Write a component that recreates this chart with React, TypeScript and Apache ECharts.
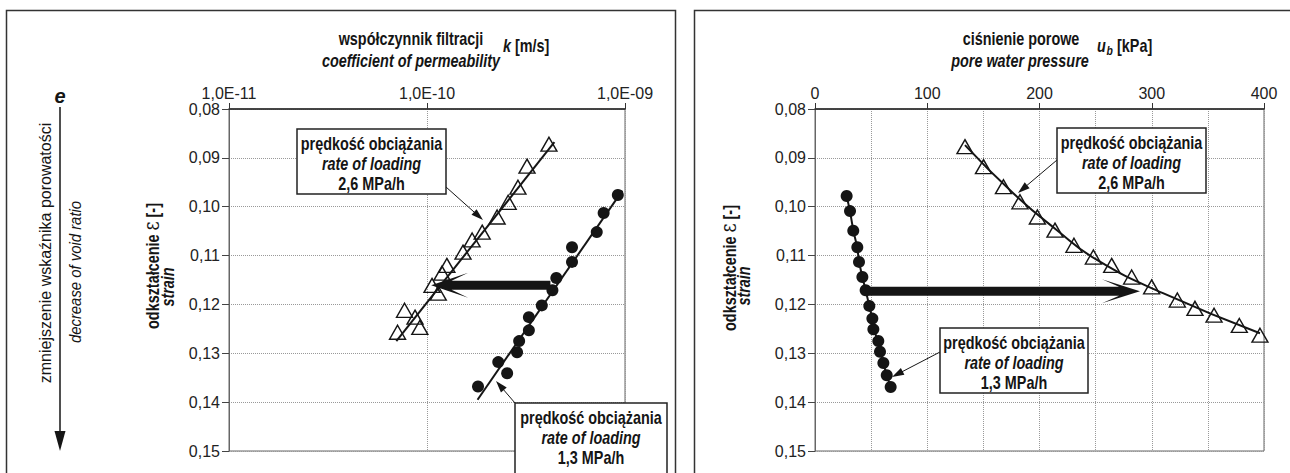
import React, { useEffect, useRef } from "react";
import * as echarts from "echarts";

// ---------- data ----------
// left chart: coefficient of permeability k [m/s] vs strain
const leftTriangles: [number, number][] = [
  [4.13e-10, 0.0872], [3.2e-10, 0.0917], [2.88e-10, 0.096], [2.57e-10, 0.0991],
  [2.26e-10, 0.1021], [1.9e-10, 0.1052], [1.69e-10, 0.1068], [1.52e-10, 0.1093],
  [1.26e-10, 0.112], [1.19e-10, 0.1136], [1.06e-10, 0.1161], [1.14e-10, 0.1177],
  [7.7e-11, 0.1212], [8.7e-11, 0.1226], [9.2e-11, 0.1247], [7.1e-11, 0.1257],
];
const leftCircles: [number, number][] = [
  [9.2e-10, 0.0976], [7.8e-10, 0.1013], [7.2e-10, 0.1052], [5.4e-10, 0.1083],
  [5.4e-10, 0.1113], [4.5e-10, 0.1146], [4.3e-10, 0.1171], [3.8e-10, 0.1202],
  [3.27e-10, 0.1226], [3.27e-10, 0.1253], [2.92e-10, 0.1275], [2.85e-10, 0.1298],
  [2.29e-10, 0.1318], [2.54e-10, 0.1341], [1.81e-10, 0.1368],
];
const leftTriangleFit: [number, number][] = [[7.0e-11, 0.1275], [4.4e-10, 0.0868]];
const leftCircleFit: [number, number][] = [[1.8e-10, 0.1395], [9.7e-10, 0.0967]];
const leftArrow: number[][] = [[4.2e-10, 0.1161, 1.05e-10, 0.1161]];
const kMinorGrid: number[] = [
  2e-11, 3e-11, 4e-11, 5e-11, 6e-11, 7e-11, 8e-11, 9e-11,
  2e-10, 3e-10, 4e-10, 5e-10, 6e-10, 7e-10, 8e-10, 9e-10,
];

// right chart: pore water pressure u_b [kPa] vs strain
const rightCircles: [number, number][] = [
  [28.2, 0.0978], [31.2, 0.1009], [34.1, 0.1049], [37.7, 0.1083], [39.2, 0.1113],
  [42.2, 0.1144], [45.1, 0.1171], [48.4, 0.1203], [51.1, 0.1229], [52.0, 0.1251],
  [56.4, 0.1275], [57.9, 0.1297], [60.9, 0.132], [63.9, 0.1345], [67.4, 0.1369],
];
const rightTriangles: [number, number][] = [
  [133.6, 0.0877], [150.1, 0.0918], [167.9, 0.0959], [182.6, 0.099], [198.1, 0.1021],
  [213.8, 0.1048], [230.7, 0.1079], [248.0, 0.1103], [264.3, 0.112], [282.1, 0.1144],
  [299.9, 0.1164], [322.8, 0.1191], [338.5, 0.1208], [355.5, 0.1222], [378.0, 0.1243],
  [396.4, 0.1263],
];
const rightTriangleFit: [number, number][] = [
  [133.6, 0.0874], [176.4, 0.0972], [215, 0.1047], [251.2, 0.1109], [310, 0.1177], [396.4, 0.1259],
];
const rightArrow: number[][] = [[45, 0.1173, 289.5, 0.1173]];

const strainTicks = { min: 0.08, max: 0.15, interval: 0.01 };

// ---------- styling ----------
const NARROW = "'Liberation Sans Narrow', 'Liberation Sans', Arial, sans-serif";
const REG = "'Liberation Sans', Arial, sans-serif";
const INK = "#151515";
const SQ = 0.8; // horizontal condensing of the bold condensed face

const fmtStrain = (v: number) => v.toFixed(2).replace(".", ",");
const fmtK = (v: number) => {
  const e = Math.round(Math.log10(v));
  const s = e < 0 ? "-" : "+";
  const a = Math.abs(e);
  return "1,0E" + s + (a < 10 ? "0" + a : String(a));
};

function yAxis(gridIndex: number) {
  return {
    type: "value",
    gridIndex,
    inverse: true,
    min: strainTicks.min,
    max: strainTicks.max,
    interval: strainTicks.interval,
    axisLine: { show: true, lineStyle: { color: "#666", width: 1 } },
    axisTick: { show: true, length: 7, lineStyle: { color: "#444" } },
    axisLabel: { formatter: fmtStrain, fontSize: 16, color: "#222", margin: 9, fontFamily: REG },
    splitLine: { show: true, lineStyle: { type: "dotted", color: "#999", width: 1 } },
  };
}

function renderArrow(headLen: number, headHalf: number, shaftHalf: number) {
  return (params: any, api: any) => {
    const p1 = api.coord([api.value(0), api.value(1)]);
    const p2 = api.coord([api.value(2), api.value(3)]);
    const dir = p2[0] > p1[0] ? 1 : -1;
    const y = p1[1];
    const backX = p2[0] - dir * headLen;
    const notchX = p2[0] - dir * headLen * 0.55;
    return {
      type: "polygon",
      shape: {
        points: [
          [p1[0], y - shaftHalf], [notchX, y - shaftHalf], [backX, y - headHalf], [p2[0], y],
          [backX, y + headHalf], [notchX, y + shaftHalf], [p1[0], y + shaftHalf],
        ],
      },
      style: { fill: INK },
    };
  };
}

function leader(x1: number, y1: number, x2: number, y2: number): any[] {
  const dx = x2 - x1, dy = y2 - y1;
  const L = Math.hypot(dx, dy);
  const ux = dx / L, uy = dy / L;
  const hl = 12, hw = 3.8;
  const bx = x2 - ux * hl, by = y2 - uy * hl;
  return [
    { type: "line", z: 100, shape: { x1, y1, x2: bx + ux * 3, y2: by + uy * 3 }, style: { stroke: INK, lineWidth: 1 } },
    {
      type: "polygon", z: 100,
      shape: { points: [[x2, y2], [bx - uy * hw, by + ux * hw], [bx + uy * hw, by - ux * hw]] },
      style: { fill: INK },
    },
  ];
}

function txt(x: number, y: number, text: string, opts: any = {}): any {
  return {
    type: "text", z: 101, x, y,
    rotation: opts.rotation || 0,
    scaleX: opts.scaleX !== undefined ? opts.scaleX : SQ,
    style: {
      text,
      fill: opts.fill || INK,
      font: opts.font || `bold 18px ${NARROW}`,
      align: opts.align || "center",
      verticalAlign: "middle",
      rich: opts.rich,
    },
  };
}

function box(x: number, y: number, w: number, h: number, rate: string): any[] {
  const cx = x + w / 2;
  return [
    { type: "rect", z: 100, shape: { x, y, width: w, height: h }, style: { fill: "#fff", stroke: "#222", lineWidth: 1.5 } },
    txt(cx, y + 14, "prędkość obciążania"),
    txt(cx, y + 34, "rate of loading", { font: `italic bold 18px ${NARROW}` }),
    txt(cx, y + 54, rate),
  ];
}

function strainTitle(cx: number, cy: number, cx2: number, cy2: number): any[] {
  return [
    txt(cx, cy, "{a|odkształcenie }{e|ε}{a| [-]}", {
      rotation: Math.PI / 2,
      rich: {
        a: { font: `bold 18px ${NARROW}`, fill: INK },
        e: { font: `22px 'DejaVu Serif', serif`, fill: INK },
      },
    }),
    txt(cx2, cy2, "strain", { rotation: Math.PI / 2, font: `italic bold 18px ${NARROW}` }),
  ];
}

export default function App() {
  const ref = useRef<HTMLDivElement>(null);

  useEffect(() => {
    document.body.style.margin = "0";
    const chart = echarts.init(ref.current!, null, { renderer: "svg" });

    const graphic: any[] = [
      // panel frames
      { type: "rect", z: 0, shape: { x: 6.5, y: 10.5, width: 669, height: 490 }, style: { fill: "none", stroke: "#333", lineWidth: 1.5 } },
      { type: "rect", z: 0, shape: { x: 694.5, y: 10.5, width: 640, height: 490 }, style: { fill: "none", stroke: "#333", lineWidth: 1.5 } },

      // left side label: void ratio
      txt(60, 96, "e", { font: `italic bold 20px ${NARROW}`, scaleX: 1 }),
      { type: "line", z: 100, shape: { x1: 60, y1: 107, x2: 60, y2: 434 }, style: { stroke: INK, lineWidth: 1.5 } },
      { type: "polygon", z: 100, shape: { points: [[54.5, 431], [65.5, 431], [60, 451]] }, style: { fill: INK } },
      txt(45, 253, "zmniejszenie wskaźnika porowatości", { rotation: Math.PI / 2, font: `16px ${REG}`, scaleX: 1 }),
      txt(75, 272, "decrease of void ratio", { rotation: Math.PI / 2, font: `italic 16px ${REG}`, scaleX: 0.93 }),

      // left axis titles
      txt(411, 38, "współczynnik filtracji"),
      txt(411, 60, "coefficient of permeability", { font: `italic bold 18px ${NARROW}` }),
      txt(503, 45, "{i|k}{n| [m/s]}", {
        align: "left",
        rich: {
          i: { font: `italic bold 18px ${NARROW}`, fill: INK },
          n: { font: `bold 18px ${NARROW}`, fill: INK },
        },
      }),
      ...strainTitle(152, 266, 167, 287),

      // right axis titles
      txt(1021, 38, "ciśnienie porowe"),
      txt(1020, 60, "pore water pressure", { font: `italic bold 18px ${NARROW}` }),
      txt(1097, 45, "u", { align: "left", font: `italic bold 18px ${NARROW}` }),
      txt(1106.5, 50, "b", { align: "left", font: `italic bold 13px ${NARROW}` }),
      txt(1117, 45, "[kPa]", { align: "left" }),
      ...strainTitle(729, 268, 743, 286),

      // callouts
      ...leader(446, 187, 483, 220),
      ...box(297, 129, 149, 65, "2,6 MPa/h"),
      ...leader(515, 403, 496, 381),
      ...box(515, 403, 152, 72, "1,3 MPa/h"),
      ...leader(1057, 160, 1018, 193),
      ...box(1057, 128, 149, 65, "2,6 MPa/h"),
      ...leader(940, 352, 892, 377),
      ...box(940, 328, 148, 65, "1,3 MPa/h"),
    ];

    chart.setOption({
      animation: false,
      backgroundColor: "#fff",
      textStyle: { fontFamily: REG },
      grid: [
        { left: 229, top: 109, width: 396, height: 342, show: true, borderColor: "#666", borderWidth: 1 },
        { left: 815, top: 109, width: 449, height: 342, show: true, borderColor: "#666", borderWidth: 1 },
      ],
      xAxis: [
        {
          type: "log",
          logBase: 10,
          gridIndex: 0,
          position: "top",
          min: 1e-11,
          max: 1e-9,
          axisLine: { show: true, lineStyle: { color: "#222", width: 1.5 } },
          axisTick: { show: true, length: 6, lineStyle: { color: "#333" } },
          axisLabel: { formatter: fmtK, fontSize: 16, color: "#222", margin: 8, fontFamily: REG },
          splitLine: { show: true, lineStyle: { type: "dotted", color: "#999", width: 1 } },
        },
        {
          type: "value",
          gridIndex: 1,
          position: "top",
          min: 0,
          max: 400,
          interval: 100,
          axisLine: { show: true, lineStyle: { color: "#222", width: 1.5 } },
          axisTick: { show: true, length: 6, lineStyle: { color: "#333" } },
          axisLabel: { fontSize: 16, color: "#222", margin: 8, fontFamily: REG },
          splitLine: { show: true, lineStyle: { type: "dotted", color: "#999", width: 1 } },
          minorTick: { show: false, splitNumber: 2 },
          minorSplitLine: { show: true, lineStyle: { type: "dotted", color: "#999", width: 1 } },
        },
      ],
      yAxis: [yAxis(0), yAxis(1)],
      series: [
        // left minor grid (log decades)
        {
          type: "line",
          xAxisIndex: 0,
          yAxisIndex: 0,
          data: [],
          z: 1,
          silent: true,
          markLine: {
            silent: true,
            symbol: ["none", "none"],
            label: { show: false },
            lineStyle: { type: "dotted", color: "#999", width: 1 },
            data: kMinorGrid.map((v) => ({ xAxis: v })),
          },
        },
        {
          type: "scatter",
          xAxisIndex: 0,
          yAxisIndex: 0,
          data: leftTriangles,
          symbol: "triangle",
          symbolSize: [16, 14],
          itemStyle: { color: "rgba(255,255,255,0)", borderColor: INK, borderWidth: 1.4, opacity: 1 },
          z: 3,
        },
        {
          type: "line",
          xAxisIndex: 0,
          yAxisIndex: 0,
          data: leftTriangleFit,
          symbol: "none",
          lineStyle: { color: INK, width: 2 },
          z: 4,
        },
        {
          type: "scatter",
          xAxisIndex: 0,
          yAxisIndex: 0,
          data: leftCircles,
          symbol: "circle",
          symbolSize: 12,
          itemStyle: { color: INK, opacity: 1 },
          z: 3,
        },
        {
          type: "line",
          xAxisIndex: 0,
          yAxisIndex: 0,
          data: leftCircleFit,
          symbol: "none",
          lineStyle: { color: INK, width: 2 },
          z: 4,
        },
        {
          type: "custom",
          xAxisIndex: 0,
          yAxisIndex: 0,
          data: leftArrow,
          encode: { x: [0, 2], y: [1, 3] },
          renderItem: renderArrow(37, 12.5, 4.5),
          z: 5,
          clip: false,
        },
        // right chart
        {
          type: "scatter",
          xAxisIndex: 1,
          yAxisIndex: 1,
          data: rightTriangles,
          symbol: "triangle",
          symbolSize: [16, 14],
          itemStyle: { color: "rgba(255,255,255,0)", borderColor: INK, borderWidth: 1.4, opacity: 1 },
          z: 3,
        },
        {
          type: "line",
          xAxisIndex: 1,
          yAxisIndex: 1,
          data: rightTriangleFit,
          smooth: true,
          symbol: "none",
          lineStyle: { color: INK, width: 2 },
          z: 4,
        },
        {
          type: "line",
          xAxisIndex: 1,
          yAxisIndex: 1,
          data: rightCircles,
          symbol: "circle",
          symbolSize: 12,
          showSymbol: true,
          itemStyle: { color: INK, opacity: 1 },
          lineStyle: { color: INK, width: 2 },
          z: 4,
        },
        {
          type: "custom",
          xAxisIndex: 1,
          yAxisIndex: 1,
          data: rightArrow,
          encode: { x: [0, 2], y: [1, 3] },
          renderItem: renderArrow(38, 12, 4.5),
          z: 5,
          clip: false,
        },
      ],
      graphic,
    });

    return () => chart.dispose();
  }, []);

  return <div ref={ref} style={{ width: 1290, height: 473 }} />;
}
